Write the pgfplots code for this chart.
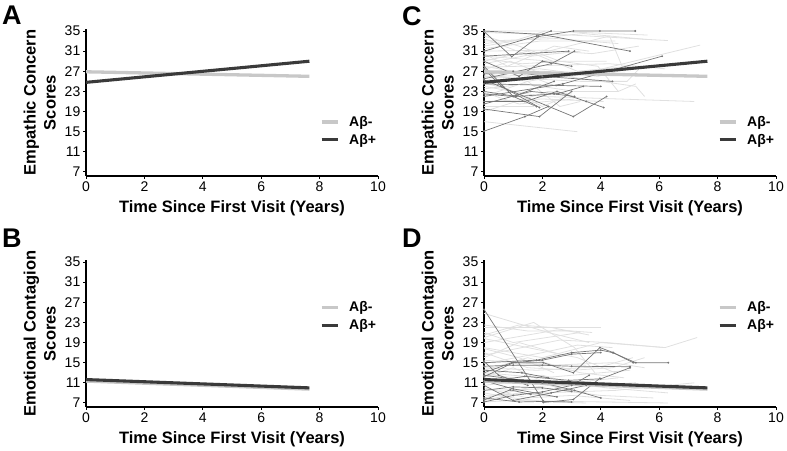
\documentclass[border=0pt]{standalone}
\usepackage{fontspec}
\setmainfont{Liberation Sans}
\usepackage{pgfplots}
\pgfplotsset{compat=1.18}
\definecolor{meanlight}{RGB}{200,200,200}
\definecolor{meandark}{RGB}{58,58,58}
\definecolor{indlight}{RGB}{224,224,224}
\definecolor{inddark}{RGB}{118,118,118}
\pgfplotsset{
  panel/.style={
    scale only axis, width=292pt, height=147pt,
    xmin=0, xmax=10, ymin=6.2, ymax=35.4,
    axis x line*=bottom, axis y line*=left,
    xtick={0,2,...,10}, ytick={7,11,...,35},
    tick align=outside, major tick length=3pt,
    axis line style={line width=1.2pt, black},
    major tick style={line width=1pt, black},
    /pgf/number format/assume math mode=true,
    tick label style={font=\fontsize{14}{16}\selectfont},
    yticklabel style={inner sep=2.5pt},
    xticklabel style={inner sep=2.5pt},
    label style={font=\fontsize{16.5}{20}\selectfont\bfseries},
    xlabel={Time Since First Visit (Years)},
    xlabel style={at={(axis description cs:0.5,0)}, anchor=north, inner sep=0pt, yshift=-24pt},
    ylabel style={at={(axis description cs:-0.103,0.5)}, anchor=south, inner sep=0pt, align=center},
    legend style={draw=none, fill=none, anchor=west, inner sep=0pt, outer sep=0pt,
      font=\fontsize{14}{16}\selectfont\bfseries, row sep=6pt, column sep=10pt,
      nodes={inner sep=0pt}},
    legend image code/.code={\draw[#1] (0pt,0pt) -- (16pt,0pt);},
    legend cell align=left,
  },
  lt/.style={indlight, line width=0.8pt, forget plot},
  dk/.style={inddark, line width=0.7pt, mark=*, mark size=0.55pt, forget plot},
  ml/.style={meanlight, line width=3.3pt},
  md/.style={meandark, line width=3.1pt},
}
\begin{document}
\begin{tikzpicture}
\useasboundingbox (0,0) rectangle (787pt,450pt);
% Panel A
\begin{axis}[panel, at={(86pt,274pt)}, anchor=south west,
  ylabel={Empathic Concern\\Scores},
  legend style={at={(axis description cs:0.801,0.307)}}]
\addplot[ml] coordinates {(0,26.9) (7.65,26.0)};
\addlegendentry{Aβ-}
\addplot[md] coordinates {(0,24.8) (7.65,29.0)};
\addlegendentry{Aβ+}
\end{axis}
% Panel B
\begin{axis}[panel, at={(86pt,43pt)}, anchor=south west,
  ylabel={Emotional Contagion\\Scores},
  legend style={at={(axis description cs:0.801,0.616)}}]
\addplot[ml] coordinates {(0,11.35) (7.65,9.75)};
\addlegendentry{Aβ-}
\addplot[md] coordinates {(0,11.65) (7.65,10.0)};
\addlegendentry{Aβ+}
\end{axis}
% Panel C
\begin{axis}[panel, at={(484pt,274pt)}, anchor=south west,
  ylabel={Empathic Concern\\Scores},
  legend style={at={(axis description cs:0.801,0.307)}}]
\addplot[lt] coordinates {(0,35)(2.1,35)(5.6,34.2)};
\addplot[lt] coordinates {(0,34.7)(3,34.2)(6.3,33.1)};
\addplot[lt] coordinates {(0,33)(2.5,33.5)(4.6,32.5)};
\addplot[lt] coordinates {(0,32)(1,33)(2.1,35)};
\addplot[lt] coordinates {(0,31)(2,31.2)(3.7,30.5)(5.3,32)};
\addplot[lt] coordinates {(0,30)(2.3,29)(4.2,29)};
\addplot[lt] coordinates {(0,29.5)(1.3,28.5)(2.8,29)};
\addplot[lt] coordinates {(0,28.5)(2.2,31)(4.3,34)(4.8,27)};
\addplot[lt] coordinates {(0,28)(1,27)(3,26)(7.4,32.2)};
\addplot[lt] coordinates {(0,27)(2,27)(4,26.5)(6,26)};
\addplot[lt] coordinates {(0,26.5)(1.5,25)(3.5,27)};
\addplot[lt] coordinates {(0,26)(3.3,25)(4.9,25)(5.4,28)};
\addplot[lt] coordinates {(0,25)(1.1,27)(2.5,24)};
\addplot[lt] coordinates {(0,24)(2,22)(7.2,21)};
\addplot[lt] coordinates {(0,23.5)(1.4,24.5)(3.1,23)(4.6,23)};
\addplot[lt] coordinates {(0,22)(1.5,25)(2.6,20)(3.3,21)};
\addplot[lt] coordinates {(0,21)(2,21.5)(4.1,21)};
\addplot[lt] coordinates {(0,20)(1.7,20)};
\addplot[lt] coordinates {(0,19)(2.2,23)(3,22.5)};
\addplot[lt] coordinates {(0,17)(3.2,15)};
\addplot[lt] coordinates {(0,33.5)(1.6,30)(3.3,31)};
\addplot[lt] coordinates {(0,30.5)(0.8,28)(2.4,32)(3.6,31)};
\addplot[lt] coordinates {(0,27.8)(4.3,28.5)(6.2,27.5)};
\addplot[lt] coordinates {(0,25.8)(2.2,26.5)(5.2,24)(5.5,22)};
\addplot[lt] coordinates {(0,24.8)(1,23)(2,20)(2.8,22)};
\addplot[lt] coordinates {(0,29)(1.5,31)(3.2,27)(5,28)};
\addplot[lt] coordinates {(0,34)(1.2,32)(2.6,29)(3.9,28)(4.6,23)(5.2,24.5)};
\addplot[lt] coordinates {(0,31.5)(1.9,33)(4.5,33)};
\addplot[lt] coordinates {(0,22.8)(1.2,20.5)(3.1,21.5)};
\addplot[lt] coordinates {(0,27.3)(0.9,29)(2.2,26)};
\addplot[lt] coordinates {(0,32.5)(3.4,34.5)(5.6,33.3)};
\addplot[lt] coordinates {(0,26.2)(1.9,27.5)(3.9,26)(4.6,27)(5.4,28)};
\addplot[dk] coordinates {(0,34.9)(0.95,29.9)(1.86,33.9)(3.06,35)(3.97,35)(5.18,35)};
\addplot[dk] coordinates {(0,35)(2,34.3)(5,31)};
\addplot[dk] coordinates {(0,15.1)(1.4,18)(2.2,20)};
\addplot[dk] coordinates {(0,19.5)(1.9,18)(3,23)};
\addplot[dk] coordinates {(0,25.3)(3.06,18)(4.2,22)};
\addplot[dk] coordinates {(0,28)(1,22)(2.4,25)};
\addplot[dk] coordinates {(0,30)(2.9,31)};
\addplot[dk] coordinates {(0,22)(2.7,24.5)(6.1,30)};
\addplot[dk] coordinates {(0,23)(1.1,22)(2.4,22.5)(3.1,22)};
\addplot[dk] coordinates {(0,21)(1.4,21)(2.5,23)(3.5,21)(4.1,19.8)};
\addplot[dk] coordinates {(0,26.5)(1,27)(2,26)(4.4,25)};
\addplot[dk] coordinates {(0,24.5)(4.0,24)};
\addplot[dk] coordinates {(0,29)(1.2,26)(2,29)(3,28)};
\addplot[dk] coordinates {(0,27.5)(0.6,24)(1.9,19.8)};
\addplot[dk] coordinates {(0,31)(1.8,34)(2.3,35)};
\addplot[dk] coordinates {(0,22.5)(1,22)(1.8,20)};
\addplot[dk] coordinates {(0,25.5)(2.3,28.5)(3.1,31)};
\addplot[dk] coordinates {(0,20.5)(1.6,23)(2.5,22.5)(3.4,24)};
\addplot[ml] coordinates {(0,26.9) (7.65,26.0)};
\addlegendentry{Aβ-}
\addplot[md] coordinates {(0,24.8) (7.65,29.0)};
\addlegendentry{Aβ+}
\end{axis}
% Panel D
\begin{axis}[panel, at={(484pt,43pt)}, anchor=south west,
  ylabel={Emotional Contagion\\Scores},
  legend style={at={(axis description cs:0.801,0.616)}}]
\addplot[lt] coordinates {(0,22)(4,22)};
\addplot[lt] coordinates {(0,24.8)(2.2,21)(3.6,19)};
\addplot[lt] coordinates {(0,20)(1.7,23)(3.1,18)(3.8,13)};
\addplot[lt] coordinates {(0,19)(2.5,21.5)(3.7,21)};
\addplot[lt] coordinates {(0,22.5)(1.5,21.3)(3,21.3)};
\addplot[lt] coordinates {(0,18)(2,16)(4,19)(6.2,18)(7.3,20)};
\addplot[lt] coordinates {(0,17)(1.5,14)(3,13.5)(4.4,14)(5.5,16)};
\addplot[lt] coordinates {(0,16)(1.2,19)(2.7,16.5)};
\addplot[lt] coordinates {(0,13)(2,12)(4,13)(5,13.5)};
\addplot[lt] coordinates {(0,12)(1,14)(2.5,10)(3.5,9)};
\addplot[lt] coordinates {(0,11)(2.1,11.5)(4.2,10)(6.3,9)};
\addplot[lt] coordinates {(0,10)(1.5,8)(3,8.5)(5,7.5)};
\addplot[lt] coordinates {(0,9)(1,8)(2.2,7.2)(3.5,7)};
\addplot[lt] coordinates {(0,8.5)(2,9)(4.5,9.5)(7.2,11)};
\addplot[lt] coordinates {(0,7.2)(1,7.5)(3,7.3)(6.3,7)};
\addplot[lt] coordinates {(0,14.8)(2,17)(3.2,18.5)(4.4,18)};
\addplot[lt] coordinates {(0,21)(1,19)(3.3,21)};
\addplot[lt] coordinates {(0,17.8)(1.2,16)(2.4,13)};
\addplot[lt] coordinates {(0,15.5)(2.3,14.5)(4.4,15)(5.5,14)};
\addplot[lt] coordinates {(0,13.5)(1.5,16)(3.3,13)(4.8,12)};
\addplot[lt] coordinates {(0,12.8)(1,12)(2,12.5)(3.3,10.5)(5.2,11)};
\addplot[lt] coordinates {(0,11.8)(3,10.8)(6.5,10)};
\addplot[lt] coordinates {(0,10.5)(1.5,11.5)(3.3,9)};
\addplot[lt] coordinates {(0,9.5)(2.2,9.8)(4,8.5)(5.8,8)};
\addplot[lt] coordinates {(0,8)(1.5,10)(3,11)(4.6,12)};
\addplot[lt] coordinates {(0,7.5)(1.2,9)(2.5,8.2)};
\addplot[lt] coordinates {(0,16.5)(2.6,19.5)(4.2,19)(6.2,18)};
\addplot[lt] coordinates {(0,19.8)(1.5,18)(3.2,16)(4.5,13)};
\addplot[lt] coordinates {(0,14)(1.8,13.5)(4,14.2)(5.1,16)};
\addplot[lt] coordinates {(0,20.5)(1.2,22.5)(2.3,22)(3.6,20.5)};
\addplot[dk] coordinates {(0,25.6)(2.03,7.4)};
\addplot[dk] coordinates {(2.03,7.1)(3.06,7.7)(3.97,11.9)};
\addplot[dk] coordinates {(0,13)(0.95,15)(2.03,15)(3.06,13)(3.97,18)(4.43,17)(5.11,15)(6.31,15)};
\addplot[dk] coordinates {(0,15)(1.8,15.5)(3,17)(4,17.5)(4.4,17)(5.2,15)};
\addplot[dk] coordinates {(0,14.3)(1,14.5)(2,14.5)(3,14.3)(5,14.2)};
\addplot[dk] coordinates {(0,12.2)(1,15)(2,15.5)(3,16.7)(4,17)};
\addplot[dk] coordinates {(0,9.5)(1,10.2)(2,10)(3,9.3)};
\addplot[dk] coordinates {(0,8)(1.2,7.2)(2,7.3)(3,7.2)};
\addplot[dk] coordinates {(0,10.5)(1,7.5)(2.3,9)(3.5,10.5)};
\addplot[dk] coordinates {(0,12.5)(2,11)(3.1,9.5)(4,8)};
\addplot[dk] coordinates {(0,7.2)(1,8.5)(2,9.2)(3,10.5)(3.6,12.5)};
\addplot[dk] coordinates {(0,11.4)(1,9.8)(2.5,8.2)};
\addplot[dk] coordinates {(0,13.5)(1.3,13)(2.2,12)};
\addplot[dk] coordinates {(0,7.6)(0.9,9.6)(1.6,8.7)};
\addplot[dk] coordinates {(0,15.3)(0.5,12.5)(1.5,10.5)};
\addplot[dk] coordinates {(0,11)(1.4,12.3)(2.9,11.5)(4,11.8)(5,14)};
\addplot[ml] coordinates {(0,11.35) (7.65,9.75)};
\addlegendentry{Aβ-}
\addplot[md] coordinates {(0,11.65) (7.65,10.0)};
\addlegendentry{Aβ+}
\end{axis}
% panel letters
\node[anchor=base west, inner sep=0pt, font=\fontsize{27}{30}\selectfont\bfseries] at (2pt,425pt) {A};
\node[anchor=base west, inner sep=0pt, font=\fontsize{27}{30}\selectfont\bfseries] at (2pt,202pt) {B};
\node[anchor=base west, inner sep=0pt, font=\fontsize{27}{30}\selectfont\bfseries] at (402pt,424pt) {C};
\node[anchor=base west, inner sep=0pt, font=\fontsize{27}{30}\selectfont\bfseries] at (402pt,202pt) {D};
\end{tikzpicture}
\end{document}
